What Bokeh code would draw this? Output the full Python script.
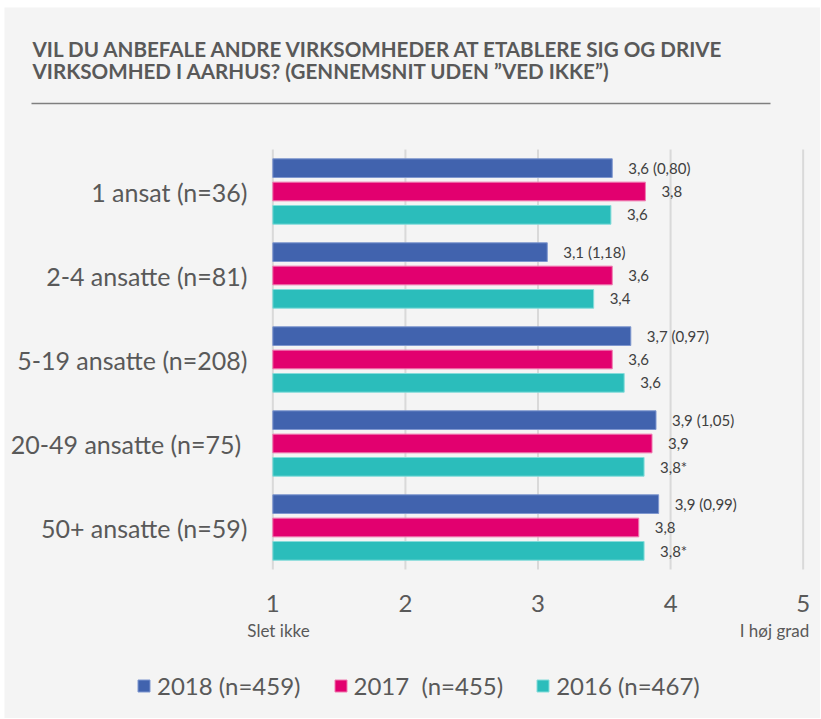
from bokeh.plotting import figure
from bokeh.models import (ColumnDataSource, Range1d, Label, Legend, LegendItem,
                          Arrow, LabelSet)
from bokeh.layouts import column
from bokeh.core.properties import value
from bokeh.embed import file_html
from bokeh.resources import INLINE

# ---------------- data ----------------
categories = ["1 ansat (n=36)", "2-4 ansatte (n=81)", "5-19 ansatte (n=208)",
              "20-49 ansatte  (n=75)", "50+ ansatte (n=59)"]
series_names = ["2018 (n=459)", "2017  (n=455)", "2016 (n=467)"]
values_2018 = [3.56, 3.07, 3.70, 3.89, 3.91]
values_2017 = [3.81, 3.56, 3.56, 3.86, 3.76]
values_2016 = [3.55, 3.42, 3.65, 3.80, 3.80]
labels_2018 = ["3,6 (0,80)", "3,1 (1,18)", "3,7 (0,97)", "3,9 (1,05)", "3,9 (0,99)"]
labels_2017 = ["3,8", "3,6", "3,6", "3,9", "3,8"]
labels_2016 = ["3,6", "3,4", "3,6", "3,8*", "3,8*"]
x_ticks = [1, 2, 3, 4, 5]
x_tick_labels = ["1", "2", "3", "4", "5"]
x_end_labels = ["Slet ikke", "I høj grad"]
title_lines = ["VIL DU ANBEFALE ANDRE VIRKSOMHEDER AT ETABLERE SIG OG DRIVE",
               "VIRKSOMHED I AARHUS? (GENNEMSNIT UDEN \u201dVED IKKE\u201d)"]

# ---------------- style / layout ----------------
COLORS = ["#4163AE", "#E2006F", "#2BBDBB"]
EDGE = ["#7f97cf", "#f07ab0", "#86dcda"]
BG = "#F4F4F4"
TXT = "#595959"
FONT = "Lato"
W, H = 816, 711
# plot area (bars region) in canvas px
FRAME_L, FRAME_R = 267, 800
FRAME_T, FRAME_B = 142, 562
X0, X1 = 0.99, 5.01
XU = (FRAME_R - FRAME_L) / (X1 - X0)
YU = (FRAME_B - FRAME_T) / 5.0


def px_to_x(px):
    return X0 + (px - FRAME_L) / XU


def py_to_y(py):
    return 5 - (py - FRAME_T) / YU


p = figure(width=W, height=H, output_backend="svg", toolbar_location=None,
           x_range=Range1d(px_to_x(0), px_to_x(W)),
           y_range=Range1d(py_to_y(H), py_to_y(0)),
           x_axis_location=None, y_axis_location=None,
           min_border=0, min_border_left=0, min_border_right=0,
           min_border_top=0, min_border_bottom=0)
p.background_fill_color = BG
p.border_fill_color = BG
p.outline_line_color = None
p.grid.visible = False

n = len(categories)
ycenter = [n - 0.5 - i for i in range(n)]
off = 0.278
bh = 0.223

# vertical grid lines on the scale values
p.segment(x0=x_ticks, x1=x_ticks, y0=0, y1=n, line_color="#D9D9D9", line_width=2)

all_vals = [values_2018, values_2017, values_2016]
all_labels = [labels_2018, labels_2017, labels_2016]
renderers = []
for k in range(3):
    ys = [y + off * (1 - k) for y in ycenter]
    src = ColumnDataSource(dict(y=ys, right=all_vals[k], lab=all_labels[k]))
    r = p.hbar(y="y", left=1, right="right", height=bh, source=src,
               fill_color=COLORS[k], line_color=EDGE[k], line_width=1)
    renderers.append(r)
    p.add_layout(LabelSet(x="right", y="y", text="lab", source=src, x_offset=16,
                          text_baseline="middle", text_align="left",
                          text_font=value(FONT), text_font_size="15px",
                          text_color="#404040"))

# category labels (left)
p.text(x=px_to_x(243), y=ycenter, text=categories, text_align="right",
       text_baseline="middle", text_font=value(FONT), text_font_size="25px",
       text_color=TXT)

# scale labels (bottom)
p.text(x=x_ticks, y=py_to_y(596), text=x_tick_labels, text_align="center",
       text_baseline="middle", text_font=value(FONT), text_font_size="24px",
       text_color=TXT)
p.add_layout(Label(x=px_to_x(274), y=py_to_y(623), text=x_end_labels[0],
                   text_align="center", text_baseline="middle", text_font=FONT,
                   text_font_size="17px", text_color=TXT))
p.add_layout(Label(x=px_to_x(770), y=py_to_y(623), text=x_end_labels[1],
                   text_align="center", text_baseline="middle", text_font=FONT,
                   text_font_size="17px", text_color=TXT))

# title
for i, t in enumerate(title_lines):
    p.add_layout(Label(x=px_to_x(28), y=py_to_y(41.5 + 21.5 * i), text=t,
                       text_align="left", text_baseline="middle", text_font=FONT,
                       text_font_size="20.6px", text_font_style="bold",
                       text_color=TXT))
p.add_layout(Arrow(end=None, x_start=px_to_x(27), y_start=py_to_y(96),
                   x_end=px_to_x(766), y_end=py_to_y(96),
                   line_color="#7F7F7F", line_width=1.5))

# legend
legend = Legend(items=[LegendItem(label=series_names[k], renderers=[renderers[k]])
                       for k in range(3)],
                orientation="horizontal", location=(132, 18),
                glyph_width=15, glyph_height=15, label_standoff=6, spacing=32,
                padding=0, margin=0, border_line_color=None,
                background_fill_alpha=0, label_text_font=FONT,
                label_text_font_size="24px", label_text_color=TXT)
p.add_layout(legend, "center")

layout = column(p, spacing=0, margin=(7, 0, 0, 4))
open("out.html", "w").write(file_html(layout, INLINE))
